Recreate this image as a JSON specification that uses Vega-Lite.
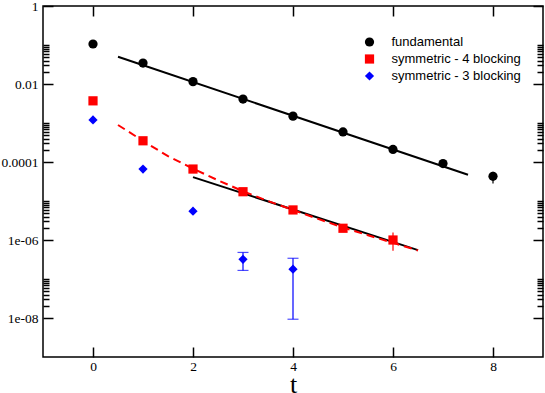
{
  "$schema": "https://vega.github.io/schema/vega-lite/v6.json",
  "width": 500,
  "height": 351,
  "autosize": "none",
  "padding": {"left": 43, "top": 6, "right": 2, "bottom": 36},
  "background": "white",
  "config": {
    "font": "Liberation Serif",
    "view": {"stroke": "black", "strokeWidth": 1.5},
    "axis": {"domain": false, "grid": false, "labelFont": "Liberation Serif", "titleFont": "Liberation Serif", "labelFontSize": 13.5, "titleFontSize": 26, "titleFontWeight": "normal", "labelColor": "black", "titleColor": "black", "tickColor": "black", "tickWidth": 1.5, "labelOverlap": false},
    "legend": {"labelFont": "Liberation Sans", "labelFontSize": 13}
  },
  "datasets": {
    "pts": [
      {"series": "fundamental", "t": 0, "value": 0.106},
      {"series": "fundamental", "t": 1, "value": 0.0345},
      {"series": "fundamental", "t": 2, "value": 0.0115},
      {"series": "fundamental", "t": 3, "value": 0.0041},
      {"series": "fundamental", "t": 4, "value": 0.0015},
      {"series": "fundamental", "t": 5, "value": 0.00059},
      {"series": "fundamental", "t": 6, "value": 0.00021},
      {"series": "fundamental", "t": 7, "value": 0.000091},
      {"series": "fundamental", "t": 8, "value": 0.000043, "lo": 0.000028, "hi": 0.000056},
      {"series": "symmetric - 4 blocking", "t": 0, "value": 0.0037},
      {"series": "symmetric - 4 blocking", "t": 1, "value": 0.00035},
      {"series": "symmetric - 4 blocking", "t": 2, "value": 0.000066},
      {"series": "symmetric - 4 blocking", "t": 3, "value": 0.0000173},
      {"series": "symmetric - 4 blocking", "t": 4, "value": 0.0000059},
      {"series": "symmetric - 4 blocking", "t": 5, "value": 0.000002, "lo": 0.0000016, "hi": 0.0000025},
      {"series": "symmetric - 4 blocking", "t": 6, "value": 0.000001, "lo": 0.00000053, "hi": 0.00000155},
      {"series": "symmetric - 3 blocking", "t": 0, "value": 0.0012},
      {"series": "symmetric - 3 blocking", "t": 1, "value": 0.000066},
      {"series": "symmetric - 3 blocking", "t": 2, "value": 0.0000055},
      {"series": "symmetric - 3 blocking", "t": 3, "value": 0.00000032, "lo": 0.000000166, "hi": 0.00000048},
      {"series": "symmetric - 3 blocking", "t": 4, "value": 0.000000178, "lo": 0.0000000093, "hi": 0.00000034}
    ],
    "fits": [
      {"fit": "fund", "t": 0.5, "value": 0.05},
      {"fit": "fund", "t": 7.5, "value": 0.000047},
      {"fit": "s4", "t": 2, "value": 0.000041},
      {"fit": "s4", "t": 6.5, "value": 0.00000055}
    ],
    "curve": [
      {"t": 0.5, "value": 0.00089},
      {"t": 1, "value": 0.000347},
      {"t": 1.5, "value": 0.000141},
      {"t": 2, "value": 0.0000676},
      {"t": 2.5, "value": 0.0000339},
      {"t": 3, "value": 0.0000178},
      {"t": 3.5, "value": 0.00001},
      {"t": 4, "value": 0.00000589},
      {"t": 4.5, "value": 0.00000347},
      {"t": 5, "value": 0.00000209},
      {"t": 5.5, "value": 0.00000132},
      {"t": 6, "value": 0.00000085},
      {"t": 6.5, "value": 0.000000537}
    ]
  },
  "resolve": {"axis": {"x": "independent", "y": "independent"}},
  "layer": [
    {
      "data": {"name": "fits"},
      "mark": {"type": "line", "color": "black", "strokeWidth": 2},
      "encoding": {
        "x": {"field": "t", "type": "quantitative", "scale": {"domain": [-1, 9]},
          "axis": {"orient": "bottom", "values": [0, 2, 4, 6, 8], "tickSize": -10, "labelPadding": 12, "title": "t", "titleBaseline": "alphabetic", "titleY": 35}},
        "y": {"field": "value", "type": "quantitative", "scale": {"type": "log", "domain": [1e-9, 1]},
          "axis": {"orient": "left", "title": null, "labelPadding": 15,
            "values": [1, 0.01, 0.0001, 0.000001, 0.00000001, 0.1, 0.09, 0.08, 0.07, 0.06, 0.05, 0.04, 0.03, 0.02, 0.001, 0.0009, 0.0008, 0.0007, 0.0006, 0.0005, 0.0004, 0.0003, 0.0002, 0.00001, 0.000009, 0.000008, 0.000007, 0.000006, 0.000005, 0.000004, 0.000003, 0.000002, 0.0000001, 0.00000009, 0.00000008, 0.00000007, 0.00000006, 0.00000005, 0.00000004, 0.00000003, 0.00000002],
            "tickSize": {"condition": {"test": "abs(log(datum.value)/LN10 - round(log(datum.value)/LN10)) < 1e-6 && round(log(datum.value)/LN10) % 2 == 0", "value": -10}, "value": -6},
            "labelExpr": "abs(log(datum.value)/LN10 - round(log(datum.value)/LN10)) < 1e-6 && round(log(datum.value)/LN10) % 2 == 0 ? (round(log(datum.value)/LN10) == 0 ? '1' : round(log(datum.value)/LN10) == -2 ? '0.01' : round(log(datum.value)/LN10) == -4 ? '0.0001' : '1e-0' + (-round(log(datum.value)/LN10))) : ''"}},
        "detail": {"field": "fit", "type": "nominal"}
      }
    },
    {
      "data": {"name": "curve"},
      "mark": {"type": "line", "color": "#ff0000", "strokeWidth": 2, "strokeDash": [8, 5]},
      "encoding": {
        "x": {"field": "t", "type": "quantitative", "scale": {"domain": [-1, 9]}, "axis": null},
        "y": {"field": "value", "type": "quantitative", "scale": {"type": "log", "domain": [1e-9, 1]}, "axis": null}
      }
    },
    {
      "data": {"name": "pts"},
      "transform": [{"filter": "datum.series == 'fundamental' && isValid(datum.lo)"}],
      "mark": {"type": "rule", "strokeWidth": 1.2, "color": "black"},
      "encoding": {
        "x": {"field": "t", "type": "quantitative", "scale": {"domain": [-1, 9]}, "axis": null},
        "y": {"field": "lo", "type": "quantitative", "scale": {"type": "log", "domain": [1e-9, 1]}, "axis": null},
        "y2": {"field": "hi"}
      }
    },
    {
      "data": {"name": "pts"},
      "transform": [{"filter": "datum.series == 'symmetric - 4 blocking' && isValid(datum.lo)"}],
      "mark": {"type": "rule", "strokeWidth": 1.2, "color": "#ff0000"},
      "encoding": {
        "x": {"field": "t", "type": "quantitative", "scale": {"domain": [-1, 9]}, "axis": null},
        "y": {"field": "lo", "type": "quantitative", "scale": {"type": "log", "domain": [1e-9, 1]}, "axis": null},
        "y2": {"field": "hi"}
      }
    },
    {
      "data": {"name": "pts"},
      "transform": [{"filter": "datum.series == 'symmetric - 3 blocking' && isValid(datum.lo)"}],
      "mark": {"type": "rule", "strokeWidth": 1.2, "color": "#0000ff"},
      "encoding": {
        "x": {"field": "t", "type": "quantitative", "scale": {"domain": [-1, 9]}, "axis": null},
        "y": {"field": "lo", "type": "quantitative", "scale": {"type": "log", "domain": [1e-9, 1]}, "axis": null},
        "y2": {"field": "hi"}
      }
    },
    {
      "data": {"name": "pts"},
      "transform": [{"filter": "datum.series == 'symmetric - 3 blocking' && isValid(datum.lo)"}],
      "mark": {"type": "tick", "orient": "horizontal", "color": "#0000ff", "size": 11, "thickness": 1.2},
      "encoding": {
        "x": {"field": "t", "type": "quantitative", "scale": {"domain": [-1, 9]}, "axis": null},
        "y": {"field": "lo", "type": "quantitative", "scale": {"type": "log", "domain": [1e-9, 1]}, "axis": null}
      }
    },
    {
      "data": {"name": "pts"},
      "transform": [{"filter": "datum.series == 'symmetric - 3 blocking' && isValid(datum.hi)"}],
      "mark": {"type": "tick", "orient": "horizontal", "color": "#0000ff", "size": 11, "thickness": 1.2},
      "encoding": {
        "x": {"field": "t", "type": "quantitative", "scale": {"domain": [-1, 9]}, "axis": null},
        "y": {"field": "hi", "type": "quantitative", "scale": {"type": "log", "domain": [1e-9, 1]}, "axis": null}
      }
    },
    {
      "data": {"name": "pts"},
      "mark": {"type": "point", "filled": true, "size": 85, "opacity": 1},
      "encoding": {
        "x": {"field": "t", "type": "quantitative", "scale": {"domain": [-1, 9]},
          "axis": {"orient": "top", "values": [0, 2, 4, 6, 8], "tickSize": -10, "labels": false, "title": null}},
        "y": {"field": "value", "type": "quantitative", "scale": {"type": "log", "domain": [1e-9, 1]},
          "axis": {"orient": "right", "title": null, "labels": false,
            "values": [1, 0.01, 0.0001, 0.000001, 0.00000001, 0.1, 0.09, 0.08, 0.07, 0.06, 0.05, 0.04, 0.03, 0.02, 0.001, 0.0009, 0.0008, 0.0007, 0.0006, 0.0005, 0.0004, 0.0003, 0.0002, 0.00001, 0.000009, 0.000008, 0.000007, 0.000006, 0.000005, 0.000004, 0.000003, 0.000002, 0.0000001, 0.00000009, 0.00000008, 0.00000007, 0.00000006, 0.00000005, 0.00000004, 0.00000003, 0.00000002],
            "tickSize": {"condition": {"test": "abs(log(datum.value)/LN10 - round(log(datum.value)/LN10)) < 1e-6 && round(log(datum.value)/LN10) % 2 == 0", "value": -10}, "value": -6}}},
        "color": {"field": "series", "type": "nominal", "scale": {"domain": ["fundamental", "symmetric - 4 blocking", "symmetric - 3 blocking"], "range": ["black", "#ff0000", "#0000ff"]},
          "legend": {"title": null, "orient": "none", "legendX": 320, "legendY": 29.5, "labelFont": "Liberation Sans", "labelFontSize": 13, "labelColor": "black", "symbolSize": 85, "rowPadding": 3, "labelOffset": 15.5, "symbolStrokeWidth": 0}},
        "shape": {"field": "series", "type": "nominal", "scale": {"domain": ["fundamental", "symmetric - 4 blocking", "symmetric - 3 blocking"], "range": ["circle", "square", "diamond"]}}
      }
    }
  ]
}
